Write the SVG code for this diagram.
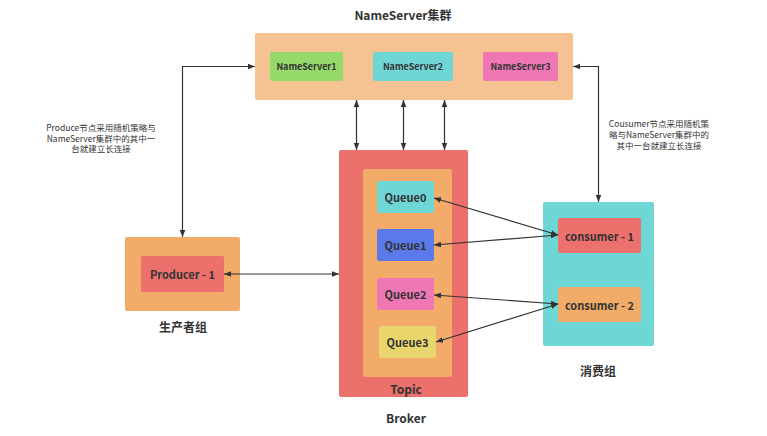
<svg xmlns="http://www.w3.org/2000/svg" width="767" height="436" viewBox="0 0 767 436">
<defs>
<marker id="ah" viewBox="0 0 10 10" refX="10" refY="5" markerWidth="7" markerHeight="7" orient="auto-start-reverse" markerUnits="userSpaceOnUse">
<path d="M0,1 L10,5 L0,9 z" fill="#333333"/>
</marker>
<style>
.lbl{font-family:"Noto Sans CJK SC","Noto Sans",sans-serif;font-weight:bold;fill:#333333;text-anchor:middle;dominant-baseline:central}
.s{font-size:9px}
.m{font-size:11px}
.t{font-size:12px}
.note{font-family:"Noto Sans CJK SC","Noto Sans",sans-serif;font-size:8.5px;fill:#333333;text-anchor:middle;dominant-baseline:central}
.c{stroke:#333333;stroke-width:1.2;fill:none;marker-start:url(#ah);marker-end:url(#ah)}
</style>
</defs>
<rect width="767" height="436" fill="#ffffff"/>
<g id="nameserver-cluster">
<text class="lbl t" x="403" y="14">NameServer集群</text>
<rect x="255" y="33" width="318" height="67" rx="2" fill="#f5c291"/>
</g>
<g id="ns1"><rect x="270" y="52" width="73" height="29" rx="2" fill="#94d96a"/><text class="lbl s" x="306.5" y="66.5">NameServer1</text></g>
<g id="ns2"><rect x="373" y="52" width="80" height="29" rx="2" fill="#6fd6d6"/><text class="lbl s" x="413" y="66.5">NameServer2</text></g>
<g id="ns3"><rect x="483" y="52" width="75" height="29" rx="2" fill="#ee77b4"/><text class="lbl s" x="520.5" y="66.5">NameServer3</text></g>
<g id="producer-group">
<rect x="125" y="237" width="115" height="74" rx="2" fill="#f2ab68"/>
<text class="lbl t" x="183" y="326">生产者组</text>
</g>
<g id="producer1"><rect x="141" y="256" width="83" height="36" rx="2" fill="#ec706c"/><text class="lbl m" x="182.5" y="274">Producer - 1</text></g>
<g id="broker">
<rect x="339" y="150" width="129" height="247" rx="2" fill="#ec706c"/>
<text class="lbl t" x="406" y="417">Broker</text>
</g>
<g id="topic">
<rect x="363" y="169" width="89" height="208" rx="2" fill="#f2ab68"/>
<text class="lbl t" x="406" y="388">Topic</text>
</g>
<g id="queue0"><rect x="377" y="181" width="57" height="32" rx="2" fill="#6fd6d6"/><text class="lbl m" x="405.5" y="197">Queue0</text></g>
<g id="queue1"><rect x="377" y="229" width="57" height="32" rx="2" fill="#5b79e8"/><text class="lbl m" x="405.5" y="245">Queue1</text></g>
<g id="queue2"><rect x="377" y="278" width="57" height="32" rx="2" fill="#ee77b4"/><text class="lbl m" x="405.5" y="294">Queue2</text></g>
<g id="queue3"><rect x="379" y="326" width="57" height="32" rx="2" fill="#e8d66c"/><text class="lbl m" x="407.5" y="342">Queue3</text></g>
<g id="consumer-group">
<rect x="543" y="202" width="111" height="144" rx="2" fill="#6fd6d6"/>
<text class="lbl t" x="598" y="370">消费组</text>
</g>
<g id="consumer1"><rect x="558" y="218" width="83" height="35" rx="2" fill="#ec706c"/><text class="lbl m" x="599.5" y="235.5">consumer - 1</text></g>
<g id="consumer2"><rect x="558" y="287" width="83" height="35" rx="2" fill="#f2ab68"/><text class="lbl m" x="599.5" y="304.5">consumer - 2</text></g>
<g id="notes">
<text class="note" x="101" y="127">Produce节点采用随机策略与</text>
<text class="note" x="101" y="137.5">NameServer集群中的其中一</text>
<text class="note" x="101" y="148">台就建立长连接</text>
<text class="note" x="659" y="123">Cousumer节点采用随机策</text>
<text class="note" x="659" y="134">略与NameServer集群中的</text>
<text class="note" x="659" y="145">其中一台就建立长连接</text>
</g>
<g id="connectors">
<path class="c" d="M255,66.5 L182.5,66.5 L182.5,237"/>
<path class="c" d="M573,66.5 L598.5,66.5 L598.5,202"/>
<path class="c" d="M356.5,100 L356.5,150"/>
<path class="c" d="M403.5,100 L403.5,150"/>
<path class="c" d="M444.5,100 L444.5,150"/>
<path class="c" d="M224,274 L339,274"/>
<path class="c" d="M434,198 L558,235"/>
<path class="c" d="M434,245 L558,235"/>
<path class="c" d="M434,295 L558,304"/>
<path class="c" d="M436,342 L558,304"/>
</g>
</svg>
